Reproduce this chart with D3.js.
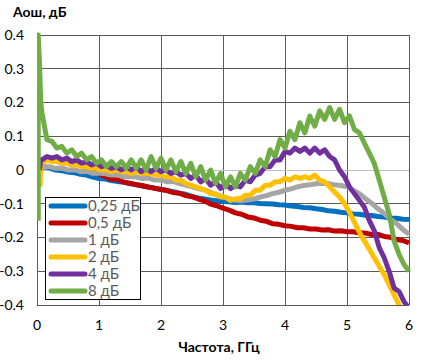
<!DOCTYPE html>
<html><head><meta charset="utf-8">
<script src="https://cdn.jsdelivr.net/npm/d3@7"></script>
<style>
html,body{margin:0;padding:0;background:#fff;}
svg{display:block;font-family:Lato,"Liberation Sans",Arial,sans-serif;}
</style></head>
<body>
<svg id="chart" width="432" height="361"></svg>
<script>
// ---------- DATA ----------
const seriesNames = ["0,25 дБ", "0,5 дБ", "1 дБ", "2 дБ", "4 дБ", "8 дБ"];
const seriesColors = ["#0070C0", "#C00000", "#A5A5A5", "#FFC000", "#7030A0", "#70AD47"];
const xTicks = [0, 1, 2, 3, 4, 5, 6];
const yTicks = [0.4, 0.3, 0.2, 0.1, 0, -0.1, -0.2, -0.3, -0.4];
const yTickLabels = ["0.4", "0.3", "0.2", "0.1", "0", "-0.1", "-0.2", "-0.3", "-0.4"];
const xTitle = "Частота, ГГц";
const yTitle = "Аош, дБ";

// frequency grids, GHz
const freqCoarse = d3.range(1, 61).map(k => +(k * 0.1).toFixed(2));   // 0.1 … 6.0
const freqFine = d3.range(1, 76).map(k => +(k * 0.08).toFixed(2));     // 0.08 … 6.0

// first points near 0 GHz (frequency, dB)
const blueStart = [[0.04, -0.005]];
const redStart = [[0.04, 0.02]];
const grayStart = [[0.04, 0.0]];
const yellowStart = [[0.03, 0.02], [0.05, -0.045], [0.06, 0.02]];
const purpleStart = [[0.04, 0.0], [0.06, 0.03]];
const greenStart = [[0.02, -0.15], [0.02, 0.4], [0.04, 0.32], [0.06, 0.2]];

// values on freqCoarse
const blueVals = [0.01,0.006,0.0,-0.002,-0.006,-0.008,-0.013,-0.015,-0.021,-0.025,
  -0.027,-0.031,-0.034,-0.036,-0.041,-0.043,-0.048,-0.05,-0.054,-0.057,
  -0.061,-0.064,-0.069,-0.072,-0.078,-0.083,-0.086,-0.089,-0.091,-0.093,
  -0.094,-0.096,-0.095,-0.097,-0.097,-0.099,-0.1,-0.101,-0.103,-0.104,
  -0.107,-0.108,-0.111,-0.112,-0.115,-0.117,-0.121,-0.122,-0.125,-0.127,
  -0.13,-0.131,-0.134,-0.135,-0.138,-0.139,-0.142,-0.143,-0.146,-0.147];
const redVals = [0.028,0.03,0.028,0.027,0.024,0.02,0.014,0.008,0.0,-0.012,
  -0.019,-0.027,-0.029,-0.036,-0.039,-0.044,-0.046,-0.051,-0.054,-0.058,
  -0.061,-0.067,-0.069,-0.076,-0.079,-0.086,-0.091,-0.101,-0.106,-0.113,
  -0.119,-0.127,-0.131,-0.139,-0.142,-0.149,-0.152,-0.159,-0.161,-0.165,
  -0.167,-0.171,-0.171,-0.175,-0.175,-0.178,-0.177,-0.181,-0.18,-0.183,
  -0.183,-0.187,-0.187,-0.191,-0.191,-0.197,-0.199,-0.206,-0.209,-0.216];
const grayVals = [0.01,0.01,0.005,0.006,0.0,0.001,-0.005,-0.004,-0.01,-0.009,
  -0.011,-0.015,-0.014,-0.02,-0.019,-0.021,-0.025,-0.024,-0.03,-0.029,
  -0.035,-0.034,-0.04,-0.045,-0.049,-0.055,-0.059,-0.066,-0.074,-0.08,
  -0.085,-0.09,-0.091,-0.088,-0.086,-0.08,-0.076,-0.07,-0.066,-0.06,
  -0.056,-0.05,-0.046,-0.044,-0.041,-0.039,-0.041,-0.044,-0.046,-0.05,
  -0.06,-0.07,-0.085,-0.099,-0.115,-0.129,-0.146,-0.159,-0.176,-0.19];
// values on freqFine
const yellowVals = [0.02,0.03,0.025,0.025,0.02,0.02,0.015,0.015,0.01,0.01,
  0.005,0.005,0.0,0.0,-0.005,0.0,-0.005,-0.005,-0.01,-0.005,
  -0.01,-0.01,-0.01,-0.015,-0.015,-0.02,-0.02,-0.03,-0.03,-0.04,
  -0.045,-0.05,-0.055,-0.06,-0.07,-0.07,-0.08,-0.08,-0.09,-0.085,
  -0.085,-0.075,-0.075,-0.06,-0.06,-0.045,-0.045,-0.035,-0.035,-0.025,
  -0.03,-0.02,-0.025,-0.02,-0.025,-0.015,-0.03,-0.035,-0.05,-0.065,
  -0.08,-0.1,-0.125,-0.155,-0.185,-0.21,-0.235,-0.26,-0.285,-0.31,
  -0.34,-0.37,-0.4,-0.43,-0.46];
const purpleVals = [0.03,0.04,0.035,0.04,0.03,0.035,0.025,0.03,0.02,0.025,
  0.015,0.02,0.01,0.015,0.005,0.01,0.0,0.01,0.0,0.01,
  -0.005,0.005,-0.005,0.005,-0.005,0.0,-0.01,-0.005,-0.015,-0.01,
  -0.025,-0.015,-0.035,-0.025,-0.045,-0.035,-0.055,-0.04,-0.055,-0.045,
  -0.05,-0.03,-0.035,-0.015,-0.01,0.01,0.01,0.03,0.03,0.055,
  0.05,0.065,0.055,0.065,0.05,0.065,0.05,0.06,0.04,0.03,
  0.0,-0.02,-0.05,-0.07,-0.09,-0.11,-0.15,-0.18,-0.23,-0.26,
  -0.3,-0.35,-0.36,-0.39,-0.41];
const greenVals = [0.17,0.09,0.085,0.065,0.07,0.05,0.06,0.04,0.05,0.03,
  0.04,0.02,0.03,0.01,0.025,0.01,0.025,0.005,0.03,0.005,
  0.03,0.0,0.04,0.005,0.035,0.0,0.03,-0.005,0.025,-0.01,
  0.02,-0.02,0.01,-0.03,0.0,-0.04,-0.01,-0.05,-0.02,-0.05,
  -0.01,-0.03,0.01,-0.01,0.03,0.01,0.06,0.04,0.09,0.065,
  0.115,0.09,0.14,0.11,0.16,0.13,0.175,0.15,0.185,0.15,
  0.18,0.14,0.16,0.12,0.11,0.08,0.05,0.02,-0.03,-0.08,
  -0.13,-0.21,-0.25,-0.28,-0.3];

// ---------- BUILD ----------
const zipPts = (start, freqs, vals) => start.concat(freqs.map((f, i) => [f, vals[i]]));
const seriesData = [
  zipPts(blueStart, freqCoarse, blueVals),
  zipPts(redStart, freqCoarse, redVals),
  zipPts(grayStart, freqCoarse, grayVals),
  zipPts(yellowStart, freqFine, yellowVals),
  zipPts(purpleStart, freqFine, purpleVals),
  zipPts(greenStart, freqFine, greenVals)
];

const svg = d3.select("#chart");
const L = 37, R = 409, T = 35, B = 305;
const x = d3.scaleLinear().domain([0, 6]).range([L, R]);
const y = d3.scaleLinear().domain([-0.4, 0.4]).range([B, T]);

// gridlines
svg.append("g").selectAll("line").data(yTicks.filter(v => v !== 0)).join("line")
  .attr("x1", L).attr("x2", R).attr("y1", d => y(d)).attr("y2", d => y(d))
  .attr("stroke", "#595959").attr("stroke-width", 1).attr("shape-rendering", "crispEdges");
svg.append("g").selectAll("line").data(xTicks).join("line")
  .attr("y1", T).attr("y2", B).attr("x1", d => x(d)).attr("x2", d => x(d))
  .attr("stroke", "#595959").attr("stroke-width", 1).attr("shape-rendering", "crispEdges");
// zero axis line
svg.append("line").attr("x1", L).attr("x2", R).attr("y1", y(0)).attr("y2", y(0))
  .attr("stroke", "#BFBFBF").attr("stroke-width", 1).attr("shape-rendering", "crispEdges");

// clip
svg.append("clipPath").attr("id", "plotclip").append("rect")
  .attr("x", L).attr("y", T - 3).attr("width", R - L + 3).attr("height", B - T + 3);

const line = d3.line().x(d => x(d[0])).y(d => y(d[1]));
svg.append("g").attr("clip-path", "url(#plotclip)")
  .selectAll("path").data(seriesData).join("path")
  .attr("d", line).attr("fill", "none")
  .attr("stroke", (d, i) => seriesColors[i]).attr("stroke-width", 5)
  .attr("stroke-linejoin", "round").attr("stroke-linecap", "butt");

// y tick labels
svg.append("g").selectAll("text").data(yTicks).join("text")
  .attr("x", 24).attr("y", d => y(d)).attr("dy", "0.35em")
  .attr("text-anchor", "end").attr("font-size", 14).attr("fill", "#000")
  .text((d, i) => yTickLabels[i]);
// x tick labels
svg.append("g").selectAll("text").data(xTicks).join("text")
  .attr("x", d => x(d)).attr("y", 330)
  .attr("text-anchor", "middle").attr("font-size", 14).attr("fill", "#000")
  .text(d => d);

// titles
svg.append("text").attr("x", 13).attr("y", 17).attr("font-size", 14).attr("font-weight", "bold")
  .attr("fill", "#000").text(yTitle);
svg.append("text").attr("x", 219).attr("y", 352).attr("text-anchor", "middle")
  .attr("font-size", 14).attr("font-weight", "bold").attr("fill", "#000").text(xTitle);

// legend
const lg = svg.append("g");
lg.append("rect").attr("x", 45.5).attr("y", 197.5).attr("width", 95).attr("height", 102)
  .attr("fill", "#fff").attr("stroke", "#000").attr("stroke-width", 1);
const items = lg.selectAll("g.item").data(seriesNames).join("g").attr("class", "item")
  .attr("transform", (d, i) => `translate(0, ${206 + i * 17})`);
items.append("line").attr("x1", 51).attr("x2", 85).attr("y1", 0).attr("y2", 0)
  .attr("stroke", (d, i) => seriesColors[i]).attr("stroke-width", 5).attr("stroke-linecap", "round");
items.append("text").attr("x", 88).attr("y", 0).attr("dy", "0.35em")
  .attr("font-size", 15).attr("fill", "#595959").text(d => d);
</script>
</body></html>
